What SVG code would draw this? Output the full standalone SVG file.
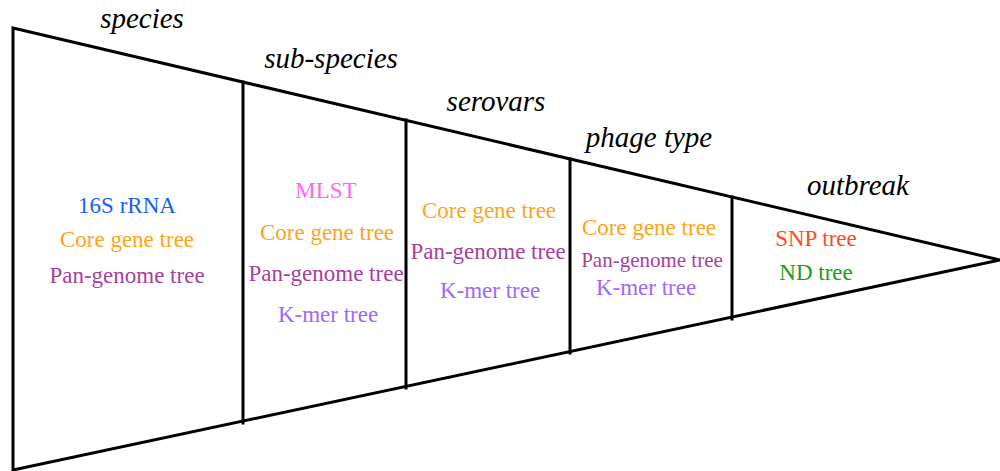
<svg xmlns="http://www.w3.org/2000/svg" width="1000" height="471" viewBox="0 0 1000 471">
<defs>
<path id="outline" d="M13,28 L1000,260 L13,470 Z"/>
</defs>
<rect width="1000" height="471" fill="#fff"/>
<g id="connectors" stroke="#000" stroke-width="3" fill="none" stroke-linecap="square">
<use href="#outline"/>
<line x1="243" y1="82" x2="243" y2="423"/>
<line x1="406" y1="120" x2="406" y2="388"/>
<line x1="570" y1="159" x2="570" y2="353"/>
<line x1="732" y1="197" x2="732" y2="319"/>
</g>
<g id="species">
<text x="142" y="28" font-family="Liberation Serif" font-style="italic" font-size="29" text-anchor="middle">species</text>
<text x="127" y="213" font-family="Liberation Serif" font-size="23" text-anchor="middle" fill="#1560f5">16S rRNA</text>
<text x="127" y="247" font-family="Liberation Serif" font-size="23" text-anchor="middle" fill="#ffa31a">Core gene tree</text>
<text x="127" y="283" font-family="Liberation Serif" font-size="23" text-anchor="middle" fill="#a8409f">Pan-genome tree</text>
</g>
<g id="sub-species">
<text x="331" y="68" font-family="Liberation Serif" font-style="italic" font-size="29" text-anchor="middle">sub-species</text>
<text x="326" y="198" font-family="Liberation Serif" font-size="23" text-anchor="middle" fill="#ff66f5">MLST</text>
<text x="327" y="240" font-family="Liberation Serif" font-size="23" text-anchor="middle" fill="#ffa31a">Core gene tree</text>
<text x="326" y="281" font-family="Liberation Serif" font-size="23" text-anchor="middle" fill="#a8409f">Pan-genome tree</text>
<text x="328" y="322" font-family="Liberation Serif" font-size="23" text-anchor="middle" fill="#a066ff">K-mer tree</text>
</g>
<g id="serovars">
<text x="496" y="111" font-family="Liberation Serif" font-style="italic" font-size="29" text-anchor="middle">serovars</text>
<text x="489" y="218" font-family="Liberation Serif" font-size="23" text-anchor="middle" fill="#ffa31a">Core gene tree</text>
<text x="488" y="259" font-family="Liberation Serif" font-size="23" text-anchor="middle" fill="#a8409f">Pan-genome tree</text>
<text x="490" y="298" font-family="Liberation Serif" font-size="23" text-anchor="middle" fill="#a066ff">K-mer tree</text>
</g>
<g id="phage-type">
<text x="649" y="147" font-family="Liberation Serif" font-style="italic" font-size="29" text-anchor="middle">phage type</text>
<text x="649" y="235" font-family="Liberation Serif" font-size="23" text-anchor="middle" fill="#ffa31a">Core gene tree</text>
<text x="652" y="267" font-family="Liberation Serif" font-size="21" text-anchor="middle" fill="#a8409f">Pan-genome tree</text>
<text x="646" y="295" font-family="Liberation Serif" font-size="23" text-anchor="middle" fill="#a066ff">K-mer tree</text>
</g>
<g id="outbreak">
<text x="858" y="195" font-family="Liberation Serif" font-style="italic" font-size="29" text-anchor="middle">outbreak</text>
<text x="816" y="246" font-family="Liberation Serif" font-size="23" text-anchor="middle" fill="#ff4a1f">SNP tree</text>
<text x="816" y="280" font-family="Liberation Serif" font-size="23" text-anchor="middle" fill="#16a01c">ND tree</text>
</g>
</svg>
